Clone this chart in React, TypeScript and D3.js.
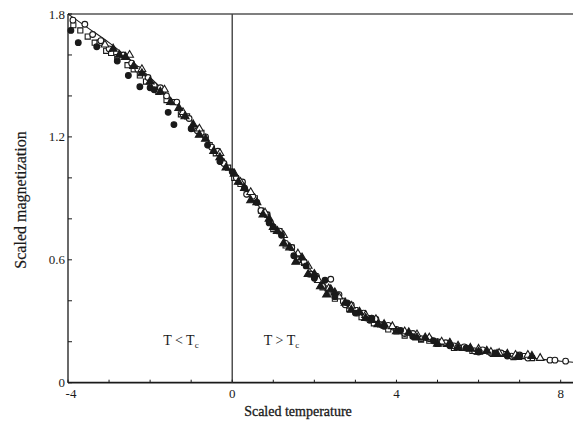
import React from "react";
import * as d3 from "d3";

// fitted scaling curve
const fitX = [-4, -3.5, -3, -2.5, -2, -1.5, -1, -0.5, 0, 0.5, 1, 1.5, 2, 2.5, 3, 3.5, 4, 4.5, 5, 5.5, 6, 6.5, 7, 7.5, 8, 8.3];
const fitY = [1.8, 1.73, 1.66, 1.58, 1.49, 1.39, 1.28, 1.16, 1.03, 0.9, 0.77, 0.645, 0.53, 0.435, 0.355, 0.295, 0.25, 0.22, 0.19, 0.17, 0.15, 0.135, 0.125, 0.115, 0.105, 0.1];

// measured points, [scaled temperature, scaled magnetization]
const openCircles = [
  [-3.88, 1.77], [-3.59, 1.75], [-3.4, 1.7], [-3.2, 1.67], [-3.0, 1.63], [-2.65, 1.6], [-2.45, 1.56],
  [-2.3, 1.53], [-2.05, 1.49], [-1.9, 1.45], [-1.75, 1.44], [-1.6, 1.4], [-1.35, 1.37], [-1.2, 1.31],
  [-1.05, 1.29], [-0.85, 1.23], [-0.65, 1.2], [-0.5, 1.15], [-0.35, 1.13], [-0.2, 1.07], [0.1, 1.0],
  [0.25, 0.98], [0.35, 0.92], [0.5, 0.91], [0.7, 0.84], [0.85, 0.82], [1.0, 0.76], [1.15, 0.74],
  [1.3, 0.68], [1.45, 0.66], [1.6, 0.6], [1.75, 0.59], [1.9, 0.53], [2.05, 0.52], [2.2, 0.47],
  [2.4, 0.505], [2.6, 0.43], [2.75, 0.38], [2.9, 0.38], [3.05, 0.34], [3.2, 0.34], [3.35, 0.305],
  [3.5, 0.31], [3.65, 0.28], [3.8, 0.28], [4.0, 0.26], [4.2, 0.24], [4.4, 0.24], [4.6, 0.215],
  [4.8, 0.215], [5.0, 0.2], [5.2, 0.195], [5.4, 0.18], [5.65, 0.175], [5.9, 0.155], [6.1, 0.16],
  [6.3, 0.145], [6.55, 0.145], [6.8, 0.13], [7.0, 0.135], [7.2, 0.12], [7.74, 0.11], [7.86, 0.11], [8.12, 0.105],
];
const openSquares = [
  [-3.87, 1.745], [-3.7, 1.72], [-3.52, 1.69], [-3.35, 1.66], [-3.23, 1.66], [-3.07, 1.62], [-2.95, 1.61],
  [-2.8, 1.59], [-2.55, 1.55], [-2.4, 1.53], [-2.25, 1.5], [-2.1, 1.47], [-1.95, 1.45], [-1.8, 1.42],
  [-1.6, 1.38], [-1.45, 1.37], [-1.25, 1.31], [-1.1, 1.3], [-0.9, 1.24], [-0.75, 1.22], [-0.55, 1.16],
  [-0.4, 1.12], [-0.25, 1.08], [-0.1, 1.05], [0.05, 1.0], [0.2, 0.97], [0.4, 0.92], [0.55, 0.9],
  [0.7, 0.84], [0.85, 0.82], [1.0, 0.75], [1.15, 0.74], [1.3, 0.67], [1.45, 0.66], [1.6, 0.6],
  [1.75, 0.585], [1.9, 0.53], [2.05, 0.51], [2.2, 0.465], [2.35, 0.45], [2.5, 0.41], [2.7, 0.4],
  [2.85, 0.36], [3.0, 0.355], [3.15, 0.32], [3.3, 0.315], [3.45, 0.29], [3.6, 0.285], [3.8, 0.26],
  [4.0, 0.25], [4.2, 0.23], [4.4, 0.23], [4.6, 0.21], [4.8, 0.205], [5.0, 0.19], [5.2, 0.19],
  [5.4, 0.17], [5.6, 0.17], [5.85, 0.155], [6.1, 0.155], [6.35, 0.14], [6.6, 0.14], [6.85, 0.125],
  [7.1, 0.13], [7.3, 0.12],
];
const filledCircles = [
  [-3.93, 1.72], [-3.75, 1.66], [-3.3, 1.64], [-2.8, 1.57], [-2.53, 1.5], [-2.25, 1.445], [-2.0, 1.44],
  [-1.9, 1.43], [-1.56, 1.32], [-1.42, 1.26], [-1.0, 1.24], [-0.6, 1.16], [-0.3, 1.08], [0.0, 1.03],
  [0.3, 0.95], [0.6, 0.88], [0.9, 0.78], [1.2, 0.72], [1.5, 0.62], [1.8, 0.57], [2.0, 0.51],
  [2.26, 0.5], [2.5, 0.42], [2.8, 0.39], [3.0, 0.34], [3.4, 0.315], [3.7, 0.275], [4.1, 0.255],
  [4.4, 0.225], [4.9, 0.205], [5.3, 0.18], [5.7, 0.17], [6.0, 0.15], [6.4, 0.145], [6.7, 0.13], [7.0, 0.13],
];
const filledTriangles = [
  [-2.9, 1.63], [-2.75, 1.6], [-2.6, 1.59], [-2.4, 1.545], [-2.2, 1.51], [-2.0, 1.47], [-1.75, 1.42],
  [-1.5, 1.37], [-1.3, 1.34], [-1.15, 1.3], [-0.95, 1.26], [-0.8, 1.21], [-0.65, 1.19], [-0.45, 1.13],
  [-0.3, 1.1], [-0.15, 1.05], [0.05, 1.02], [0.15, 0.98], [0.3, 0.95], [0.45, 0.89], [0.6, 0.88],
  [0.75, 0.82], [0.9, 0.8], [1.0, 0.76], [1.1, 0.74], [1.25, 0.68], [1.4, 0.66], [1.55, 0.59],
  [1.7, 0.61], [1.85, 0.53], [2.0, 0.53], [2.15, 0.47], [2.3, 0.43], [2.4, 0.455], [2.5, 0.44],
  [2.75, 0.39], [2.9, 0.355], [3.1, 0.345], [3.25, 0.315], [3.4, 0.305], [3.55, 0.285], [3.7, 0.285],
  [4.0, 0.25], [4.3, 0.245], [4.5, 0.22], [4.7, 0.22], [5.0, 0.19], [5.3, 0.19], [5.5, 0.17],
  [5.8, 0.165], [6.0, 0.15], [6.2, 0.155], [6.45, 0.14], [6.7, 0.14], [6.95, 0.125], [7.3, 0.13],
];
const openTriangles = [
  [-3.1, 1.65], [-2.5, 1.6], [-2.2, 1.53], [-1.65, 1.43], [-1.2, 1.32], [-0.8, 1.24], [-0.3, 1.12],
  [0.2, 0.98], [0.45, 0.93], [0.8, 0.83], [1.25, 0.72], [1.6, 0.63], [1.85, 0.57], [2.1, 0.5],
  [2.35, 0.46], [2.6, 0.42], [2.9, 0.375], [3.25, 0.33], [3.5, 0.31], [3.9, 0.275], [4.2, 0.25],
  [4.5, 0.235], [4.8, 0.22], [5.1, 0.2], [5.3, 0.195], [5.5, 0.18], [5.8, 0.17], [6.0, 0.165],
  [6.3, 0.15], [6.5, 0.145], [6.9, 0.135], [7.2, 0.135], [7.5, 0.12],
];

const xTickLabels = [-4, 0, 4, 8];
const yTickLabels = [0, 0.6, 1.2, 1.8];

const W = 573;
const H = 428;
const font = "'Liberation Serif', 'DejaVu Serif', serif";
const ink = "#1a1a1a";

const x = d3.scaleLinear().domain([-4, 8.3]).range([68, 573]);
const y = d3.scaleLinear().domain([0, 1.8]).range([382.7, 14]);

const curve = d3
  .line<number>()
  .x((d, i) => x(fitX[i]))
  .y((d) => y(d))
  .curve(d3.curveMonotoneX);

const sym = (type: d3.SymbolType, size: number) => d3.symbol().type(type).size(size)() || "";

const series = [
  { pts: openSquares, path: sym(d3.symbolSquare, 26), fill: "white" },
  { pts: openCircles, path: sym(d3.symbolCircle, 26), fill: "white" },
  { pts: openTriangles, path: sym(d3.symbolTriangle, 26), fill: "white" },
  { pts: filledTriangles, path: sym(d3.symbolTriangle, 28), fill: ink },
  { pts: filledCircles, path: sym(d3.symbolCircle, 26), fill: ink },
];

export default function App() {
  const x0 = x(-4);
  const x1 = W;
  const yb = y(0);
  const yt = y(1.8);
  return (
    <svg width={W} height={H} style={{ position: "absolute", left: 0, top: 0, background: "white" }}>
      <rect width={W} height={H} fill="white" />
      {/* frame */}
      <line x1={x0} x2={x1} y1={yt} y2={yt} stroke="#555" strokeWidth={1.6} />
      <line x1={x0} x2={x0} y1={yt} y2={yb} stroke="#444" strokeWidth={1.6} />
      <line x1={x0} x2={x1} y1={yb} y2={yb} stroke={ink} strokeWidth={1.8} />
      <line x1={x(0)} x2={x(0)} y1={yt} y2={yb} stroke="#444" strokeWidth={1.4} />

      {/* y ticks */}
      {d3.range(0, 1.81, 0.2).map((v) => (
        <line key={v} x1={x0} x2={x0 + 4} y1={y(v)} y2={y(v)} stroke={ink} strokeWidth={1} />
      ))}
      {yTickLabels.map((v) => (
        <text key={v} x={x0 - 3} y={y(v)} dy="0.35em" textAnchor="end" fontFamily={font} fontSize={13} fill={ink}>
          {v}
        </text>
      ))}

      {/* x ticks */}
      {d3.range(-4, 8.01, 1).map((v) => (
        <line key={v} x1={x(v)} x2={x(v)} y1={yb} y2={yb - 3} stroke={ink} strokeWidth={1} />
      ))}
      {xTickLabels.map((v) => (
        <text key={v} x={x(v) + (v === -4 ? 3 : 0)} y={yb + 15} textAnchor="middle" fontFamily={font} fontSize={13} fill={ink}>
          {v}
        </text>
      ))}

      {/* fitted curve */}
      <path d={curve(fitY) || ""} fill="none" stroke={ink} strokeWidth={1.1} />

      {/* data */}
      {series.map((s, i) => (
        <g key={i}>
          {s.pts.map((p, j) => (
            <path
              key={j}
              d={s.path}
              transform={`translate(${x(p[0])},${y(p[1])})`}
              fill={s.fill}
              stroke={ink}
              strokeWidth={1.1}
            />
          ))}
        </g>
      ))}

      {/* region labels */}
      <text x={x(-1.25)} y={345} textAnchor="middle" fontFamily={font} fontSize={14} fill={ink}>
        T &lt; T<tspan fontSize={9} dy={3}>c</tspan>
      </text>
      <text x={x(1.2)} y={345} textAnchor="middle" fontFamily={font} fontSize={14} fill={ink}>
        T &gt; T<tspan fontSize={9} dy={3}>c</tspan>
      </text>

      {/* axis titles */}
      <text x={298} y={416} textAnchor="middle" fontFamily={font} fontSize={14} stroke={ink} strokeWidth={0.3} fill={ink}>
        Scaled temperature
      </text>
      <text
        transform={`translate(26,${200}) rotate(-90)`}
        textAnchor="middle"
        fontFamily={font}
        fontSize={16}
        stroke={ink}
        strokeWidth={0.2}
        fill={ink}
      >
        Scaled magnetization
      </text>
    </svg>
  );
}
